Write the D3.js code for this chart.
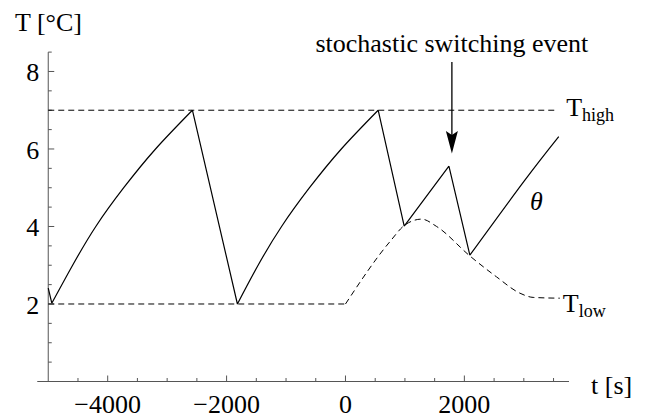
<!DOCTYPE html>
<html>
<head>
<meta charset="utf-8">
<script src="https://cdn.jsdelivr.net/npm/d3@7"></script>
<style>
  html, body { margin: 0; padding: 0; background: #fff; }
  svg { display: block; }
  svg text { font-family: "Liberation Serif", "DejaVu Serif", serif; }
</style>
</head>
<body>
<script>
// Indoor temperature theta(t) for a thermostat with a stochastic switch
const thetaTime = [-5000, -4940, -4590, -4200, -3730, -3195, -2575, -1818, -1470, -1075, -605, -70, 550, 988, 1740, 2092, 3005, 3588];
const thetaTemp = [2.41, 2.02, 3.0, 4.0, 5.0, 6.0, 7.0, 2.0, 3.0, 4.0, 5.0, 6.0, 7.0, 4.01, 5.56, 3.26, 5.17, 6.32];

// Upper and lower switching thresholds
const highTime = [-5000, 3570];
const highTemp = [7, 7];
const lowTime = [-5000, 0, 748, 1001, 1281, 1533, 2092, 2541, 2933, 3157, 3605];
const lowTemp = [2, 2, 3.61, 4.04, 4.19, 4.0, 3.24, 2.7, 2.28, 2.17, 2.15];

// Axes
const xMajor = [-4000, -2000, 0, 2000];
const xTickLabels = ["\u22124000", "\u22122000", "0", "2000"];
const yMajor = [2, 4, 6, 8];
const yTickLabels = ["2", "4", "6", "8"];

// Switching event marked by the arrow
const eventTime = 1790;
const eventLabel = "stochastic switching event";

const W = 653, H = 417;
const serif = "Liberation Serif, DejaVu Serif, serif";
const svg = d3.select("body").append("svg").attr("width", W).attr("height", H);

const x = d3.scaleLinear().domain([-5185, 3760]).range([37.25, 569]);
const y = d3.scaleLinear().domain([0, 8.5]).range([381.5, 52.1]);

const axisColor = "#555";
const font = 26;

// every label goes through here so the serif face is set on the element itself
const label = (sel) => sel.style("font-family", serif).attr("fill", "#000");

// x axis
const gx = svg.append("g");
gx.append("line").attr("x1", x(-5185)).attr("x2", x(3760))
  .attr("y1", y(0)).attr("y2", y(0)).attr("stroke", axisColor).attr("stroke-width", 1);
const xMinor = d3.range(-4500, 3501, 500).filter(v => !xMajor.includes(v));
gx.selectAll(".xm").data(xMinor).join("line")
  .attr("x1", d => x(d)).attr("x2", d => x(d))
  .attr("y1", y(0)).attr("y2", y(0) - 3.5).attr("stroke", axisColor);
gx.selectAll(".xM").data(xMajor).join("line")
  .attr("x1", d => x(d)).attr("x2", d => x(d))
  .attr("y1", y(0)).attr("y2", y(0) - 6).attr("stroke", axisColor);
gx.selectAll(".xl").data(xMajor).join("text")
  .attr("x", d => x(d)).attr("y", y(0) + 31)
  .attr("text-anchor", "middle").attr("font-size", font)
  .text((d, i) => xTickLabels[i]).call(label);

// y axis
const gy = svg.append("g");
gy.append("line").attr("x1", x(-5000)).attr("x2", x(-5000))
  .attr("y1", y(0)).attr("y2", y(8.5)).attr("stroke", axisColor).attr("stroke-width", 1);
const yMinor = d3.range(0.5, 8.51, 0.5).filter(v => !yMajor.includes(v));
gy.selectAll(".ym").data(yMinor).join("line")
  .attr("x1", x(-5000)).attr("x2", x(-5000) + 3.5)
  .attr("y1", d => y(d)).attr("y2", d => y(d)).attr("stroke", axisColor);
gy.selectAll(".yM").data(yMajor).join("line")
  .attr("x1", x(-5000)).attr("x2", x(-5000) + 6)
  .attr("y1", d => y(d)).attr("y2", d => y(d)).attr("stroke", axisColor);
gy.selectAll(".yl").data(yMajor).join("text")
  .attr("x", x(-5000) - 9).attr("y", d => y(d) + 10)
  .attr("text-anchor", "end").attr("font-size", font)
  .text((d, i) => yTickLabels[i]).call(label);

// axis titles
svg.append("text").attr("x", 15).attr("y", 31).attr("font-size", font).text("T [\u00B0C]").call(label);
svg.append("text").attr("x", 591).attr("y", 394).attr("font-size", font).text("t [s]").call(label);

// threshold lines
const dash = "6,4";
const pts = (ts, vs) => ts.map((t, i) => [t, vs[i]]);
const linear = d3.line().x(d => x(d[0])).y(d => y(d[1]));
const smooth = d3.line().x(d => x(d[0])).y(d => y(d[1])).curve(d3.curveMonotoneX);
const spline = d3.line().x(d => x(d[0])).y(d => y(d[1])).curve(d3.curveNatural);

svg.append("path").attr("d", linear(pts(highTime, highTemp)))
  .attr("fill", "none").attr("stroke", "#000").attr("stroke-width", 1).attr("stroke-dasharray", dash);

const lowPts = pts(lowTime, lowTemp);
svg.append("path").attr("d", linear(lowPts.slice(0, 2)) + smooth(lowPts.slice(1)))
  .attr("fill", "none").attr("stroke", "#000").attr("stroke-width", 1).attr("stroke-dasharray", dash);

// theta: split into monotone runs so the switching corners stay sharp
const thetaPts = pts(thetaTime, thetaTemp);
const runs = [];
let run = [thetaPts[0]];
for (let i = 1; i < thetaPts.length; i++) {
  run.push(thetaPts[i]);
  const next = thetaPts[i + 1];
  if (next) {
    const dirNow = Math.sign(thetaPts[i][1] - thetaPts[i - 1][1]);
    const dirNext = Math.sign(next[1] - thetaPts[i][1]);
    if (dirNow !== dirNext) { runs.push(run); run = [thetaPts[i]]; }
  }
}
runs.push(run);
svg.append("path").attr("d", runs.map(r => spline(r)).join(""))
  .attr("fill", "none").attr("stroke", "#000").attr("stroke-width", 1.2).attr("stroke-linejoin", "miter");

// labels for the curves
const tlab = (xx, yy, sub) => {
  const t = svg.append("text").attr("x", xx).attr("y", yy).attr("font-size", font).call(label);
  t.append("tspan").text("T");
  t.append("tspan").attr("font-size", 18).attr("dy", 5).text(sub);
};
tlab(x(3570) + 8.5, y(7) + 5.5, "high");
tlab(x(3605) + 3, y(2.15) + 14, "low");
svg.append("text").attr("x", 530).attr("y", 210).attr("font-size", font)
  .attr("font-style", "italic").text("\u03B8").call(label);

// switching event annotation
svg.append("text").attr("x", x(eventTime)).attr("y", 52).attr("text-anchor", "middle")
  .attr("font-size", font).text(eventLabel).call(label);
const ax = x(eventTime);
svg.append("line").attr("x1", ax).attr("x2", ax).attr("y1", 62).attr("y2", 136)
  .attr("stroke", "#000").attr("stroke-width", 1.3);
svg.append("path")
  .attr("d", `M${ax},153.5 L${ax - 6},131 L${ax},135 L${ax + 6},131 Z`)
  .attr("fill", "#000");
</script>
</body>
</html>
